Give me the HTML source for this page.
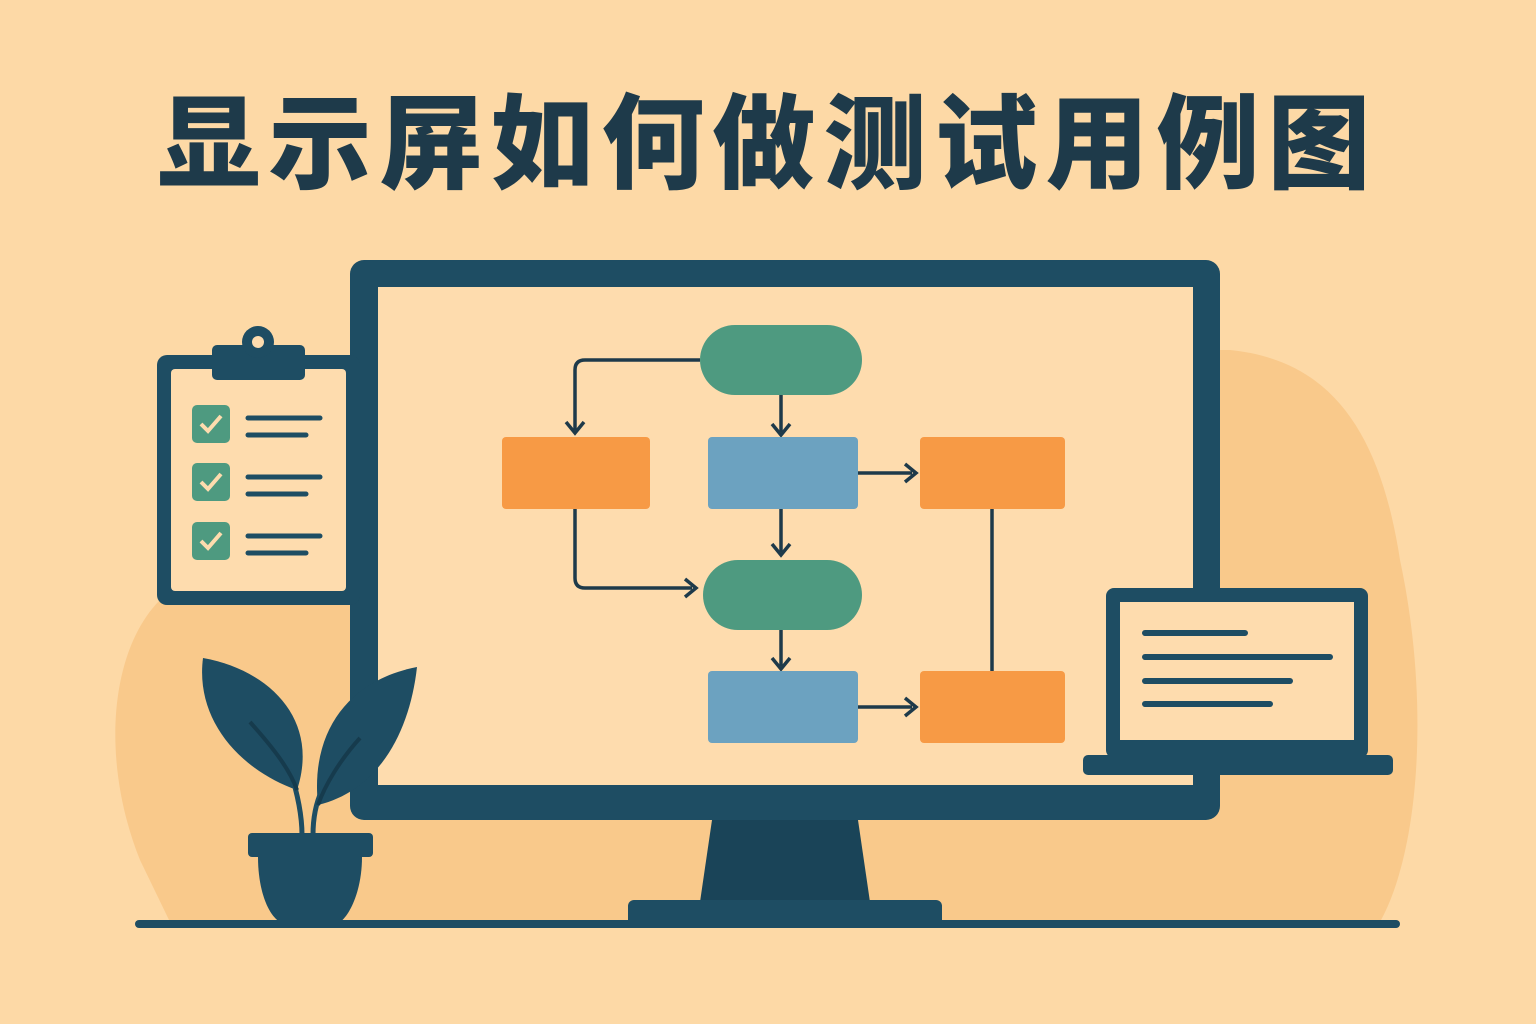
<!DOCTYPE html>
<html><head><meta charset="utf-8"><style>
html,body{margin:0;padding:0;width:1536px;height:1024px;overflow:hidden;background:#FDD9A6}
.t{position:absolute;left:0;top:80px;width:1536px;text-align:center;font-family:"Liberation Sans","Noto Sans CJK SC",sans-serif;font-weight:900;font-size:103px;letter-spacing:8px;color:#1E3A4A;line-height:130px}
svg{position:absolute;left:0;top:0}
</style></head><body>
<svg width="1536" height="1024" viewBox="0 0 1536 1024">
<path d="M160 600 C110 650 100 760 140 860 L170 922 L1380 922 C1420 850 1430 700 1400 560 C1380 430 1330 360 1230 350 L1000 350 L300 520 Z" fill="#F9C98B"/>
<rect x="350" y="260" width="870" height="560" rx="14" fill="#1E4D63"/>
<rect x="378" y="287" width="815" height="498" fill="#FEDCAE"/>
<path d="M712 820 L858 820 L870 902 L700 902 Z" fill="#1A4458"/>
<rect x="628" y="900" width="314" height="26" rx="6" fill="#1E4D63"/>
<rect x="135" y="920" width="1265" height="8" rx="4" fill="#1E4D63"/>
<g stroke="#1E3A4A" stroke-width="3.5" fill="none">
<path d="M700 360 L585 360 Q575 360 575 370 L575 430"/>
<path d="M781 395 L781 432"/>
<path d="M858 473 L912 473"/>
<path d="M781 509 L781 552"/>
<path d="M575 509 L575 578 Q575 588 585 588 L692 588"/>
<path d="M781 630 L781 666"/>
<path d="M858 707 L912 707"/>
<path d="M992 509 L992 671"/>
</g>
<g fill="none" stroke="#1E3A4A" stroke-width="3.5">
<path d="M566 422 L575 433 L584 422"/>
<path d="M772 424 L781 435 L790 424"/>
<path d="M905 464 L916 473 L905 482"/>
<path d="M772 544 L781 555 L790 544"/>
<path d="M685 579 L696 588 L685 597"/>
<path d="M772 658 L781 669 L790 658"/>
<path d="M905 698 L916 707 L905 716"/>
</g>
<rect x="700" y="325" width="162" height="70" rx="35" fill="#4E9A80"/>
<rect x="502" y="437" width="148" height="72" rx="4" fill="#F79A45"/>
<rect x="708" y="437" width="150" height="72" rx="4" fill="#6CA2C0"/>
<rect x="920" y="437" width="145" height="72" rx="4" fill="#F79A45"/>
<rect x="703" y="560" width="159" height="70" rx="35" fill="#4E9A80"/>
<rect x="708" y="671" width="150" height="72" rx="4" fill="#6CA2C0"/>
<rect x="920" y="671" width="145" height="72" rx="4" fill="#F79A45"/>
<rect x="157" y="355" width="203" height="250" rx="10" fill="#1E4D63"/>
<rect x="171" y="369" width="175" height="222" rx="4" fill="#FEDCAE"/>
<rect x="212" y="345" width="93" height="35" rx="5" fill="#1E4D63"/>
<circle cx="258" cy="342" r="16" fill="#1E4D63"/>
<circle cx="258" cy="342" r="6" fill="#FEDCAE"/>
<rect x="192" y="405" width="38" height="38" rx="5" fill="#4E9A80"/>
<rect x="192" y="463" width="38" height="38" rx="5" fill="#4E9A80"/>
<rect x="192" y="522" width="38" height="38" rx="5" fill="#4E9A80"/>
<g stroke="#FEDCAE" stroke-width="4" fill="none">
<path d="M201 424 L208 431 L221 416"/><path d="M201 482 L208 489 L221 474"/><path d="M201 541 L208 548 L221 533"/>
</g>
<g stroke="#1E4D63" stroke-width="5" stroke-linecap="round">
<line x1="248" y1="418" x2="320" y2="418"/><line x1="248" y1="435" x2="306" y2="435"/>
<line x1="248" y1="477" x2="320" y2="477"/><line x1="248" y1="494" x2="306" y2="494"/>
<line x1="248" y1="536" x2="320" y2="536"/><line x1="248" y1="553" x2="306" y2="553"/>
</g>
<rect x="1106" y="588" width="262" height="170" rx="8" fill="#1E4D63"/>
<rect x="1120" y="602" width="234" height="138" fill="#FEDCAE"/>
<rect x="1083" y="755" width="310" height="20" rx="5" fill="#1E4D63"/>
<g stroke="#1E4D63" stroke-width="6" stroke-linecap="round">
<line x1="1145" y1="633" x2="1245" y2="633"/><line x1="1145" y1="657" x2="1330" y2="657"/>
<line x1="1145" y1="681" x2="1290" y2="681"/><line x1="1145" y1="704" x2="1270" y2="704"/>
</g>
<path d="M203 658 C270 670 320 720 297 790 C240 770 195 720 203 658 Z" fill="#1E4D63"/>
<path d="M417 667 C350 680 310 730 318 805 C380 790 410 730 417 667 Z" fill="#1E4D63"/>
<g stroke="#1E4D63" stroke-width="5" fill="none">
<path d="M290 770 C298 795 302 815 302 835"/><path d="M322 790 C315 805 313 820 313 835"/>
</g>
<g stroke="#163B4D" stroke-width="4" fill="none"><path d="M250 722 C275 750 290 770 297 790"/><path d="M360 738 C340 760 325 785 318 805"/></g>
<rect x="248" y="833" width="125" height="24" rx="4" fill="#1E4D63"/>
<path d="M258 857 L362 857 C362 890 350 915 340 922 L280 922 C268 915 258 890 258 857 Z" fill="#1E4D63"/>
</svg>
<div class="t">显示屏如何做测试用例图</div>
</body></html>
